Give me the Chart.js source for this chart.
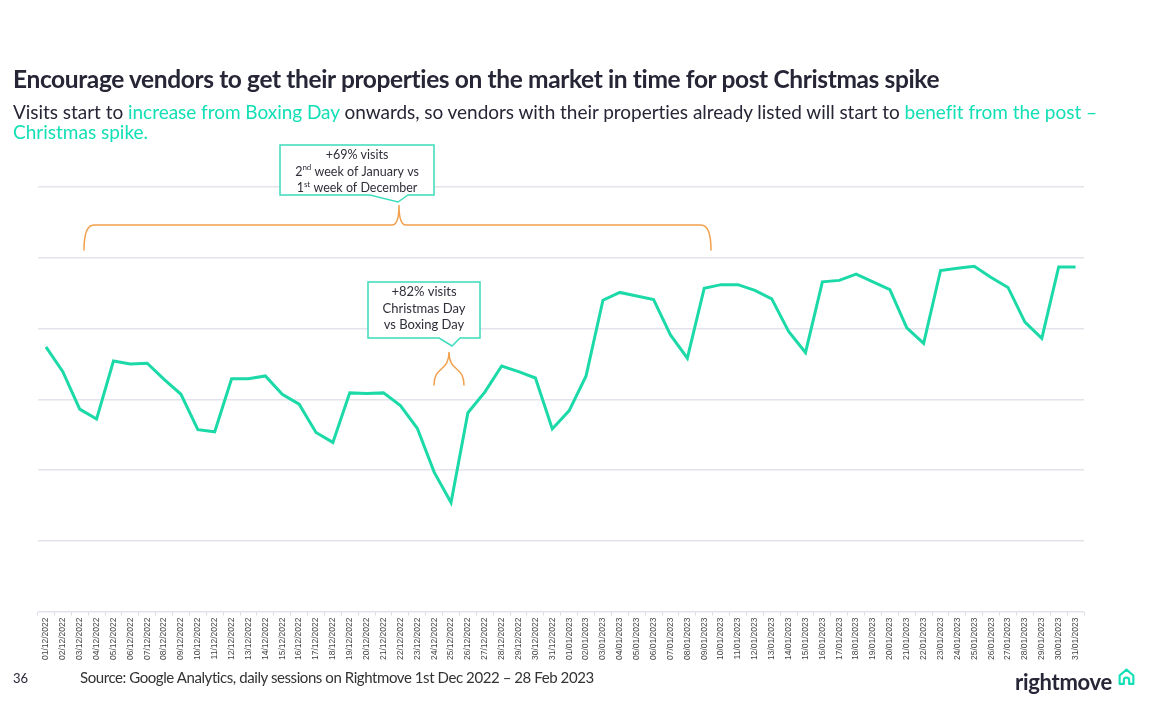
<!DOCTYPE html>
<html>
<head>
<meta charset="utf-8">
<script src="https://cdn.jsdelivr.net/npm/chart.js@4/dist/chart.umd.min.js"></script>
<style>
  html, body { margin: 0; padding: 0; background: #fff; }
  body { width: 1150px; height: 726px; position: relative; overflow: hidden; font-family: Lato, "Noto Sans", sans-serif; color: #262637; }
  #chart { position: absolute; left: 0; top: 0; }
  .txt { position: absolute; white-space: nowrap; }
  .teal { color: #12dfb5; }
  #title { left: 13px; top: 64px; font-size: 24.5px; font-weight: 700; }
  #sub1 { left: 13px; top: 100px; font-size: 19px; }
  #sub2 { left: 13px; top: 120px; font-size: 19px; }
  #page { left: 13px; top: 670px; font-size: 13px; }
  #source { left: 80px; top: 668px; font-size: 15px; color: #333; }
  #logo { left: 1015px; top: 668px; font-size: 22px; font-weight: 700; }
  #house { position: absolute; left: 1117px; top: 667px; }
</style>
</head>
<body>
<canvas id="chart" width="1150" height="726"></canvas>
<div class="txt" id="title" data-w="927">Encourage vendors to get their properties on the market in time for post Christmas spike</div>
<div class="txt" id="sub1" data-w="1084">Visits start to <span class="teal">increase from Boxing Day</span> onwards, so vendors with their properties already listed will start to <span class="teal">benefit from the post –</span></div>
<div class="txt teal" id="sub2">Christmas spike.</div>
<div class="txt" id="page">36</div>
<div class="txt" id="source" data-w="514">Source: Google Analytics, daily sessions on Rightmove 1st Dec 2022 – 28 Feb 2023</div>
<div class="txt" id="logo" data-w="97">rightmove</div>
<svg id="house" width="19" height="19" viewBox="0 0 18 18"><path d="M2.5 16 V8 L9 2.5 L15.5 8 V16 H11.5 V12.5 A2.5 2.5 0 0 0 6.5 12.5 V16 Z" fill="none" stroke="#12dfb5" stroke-width="2" stroke-linejoin="round"/></svg>
<script>
// daily labels, 1 Dec 2022 - 31 Jan 2023
var dayLabels = [
  "01/12/2022","02/12/2022","03/12/2022","04/12/2022","05/12/2022","06/12/2022","07/12/2022",
  "08/12/2022","09/12/2022","10/12/2022","11/12/2022","12/12/2022","13/12/2022","14/12/2022",
  "15/12/2022","16/12/2022","17/12/2022","18/12/2022","19/12/2022","20/12/2022","21/12/2022",
  "22/12/2022","23/12/2022","24/12/2022","25/12/2022","26/12/2022","27/12/2022","28/12/2022",
  "29/12/2022","30/12/2022","31/12/2022",
  "01/01/2023","02/01/2023","03/01/2023","04/01/2023","05/01/2023","06/01/2023","07/01/2023",
  "08/01/2023","09/01/2023","10/01/2023","11/01/2023","12/01/2023","13/01/2023","14/01/2023",
  "15/01/2023","16/01/2023","17/01/2023","18/01/2023","19/01/2023","20/01/2023","21/01/2023",
  "22/01/2023","23/01/2023","24/01/2023","25/01/2023","26/01/2023","27/01/2023","28/01/2023",
  "29/01/2023","30/01/2023","31/01/2023"
];

// daily sessions (relative, no axis shown in original)
var decSessions = [
  3.74, 3.39, 2.86, 2.72, 3.54, 3.50, 3.51, 3.28, 3.07, 2.57, 2.54,
  3.29, 3.29, 3.33, 3.07, 2.93, 2.53, 2.39, 3.09, 3.08, 3.09, 2.91,
  2.59, 1.97, 1.54, 2.81, 3.10, 3.47, 3.39, 3.30, 2.58
];
var janSessions = [
  2.84, 3.33, 4.40, 4.51, 4.46, 4.41, 3.91, 3.58, 4.57, 4.62, 4.62,
  4.54, 4.42, 3.96, 3.66, 4.66, 4.68, 4.77, 4.66, 4.55, 4.01, 3.79,
  4.82, 4.85, 4.88, 4.72, 4.58, 4.09, 3.86, 4.87, 4.87
];
var gridTicks = [0, 1, 2, 3, 4, 5, 6];

var TEAL = "#1cd9a8";
var ORANGE = "#f2a04e";
var FONT = "Lato, 'Noto Sans', sans-serif";

// stretch text to the width it has in the slide
document.querySelectorAll("[data-w]").forEach(function(el) {
  var target = +el.getAttribute("data-w");
  var n = el.textContent.length;
  var w = el.getBoundingClientRect().width;
  el.style.letterSpacing = ((target - w) / n) + "px";
});

// callout box with little pointer under it
function callout(ctx, box, lines) {
  ctx.save();
  ctx.beginPath();
  ctx.moveTo(box.l, box.t);
  ctx.lineTo(box.r, box.t);
  ctx.lineTo(box.r, box.b);
  ctx.lineTo(box.pr, box.b);
  ctx.lineTo(box.px, box.py);
  ctx.lineTo(box.pl, box.b);
  ctx.lineTo(box.l, box.b);
  ctx.closePath();
  ctx.fillStyle = "#fff";
  ctx.fill();
  ctx.strokeStyle = "#3ddcbc";
  ctx.lineWidth = 1.5;
  ctx.stroke();

  ctx.fillStyle = "#2f2f3a";
  ctx.textBaseline = "middle";
  var cx = (box.l + box.r) / 2;
  lines.forEach(function(line, i) {
    var y = box.t + box.lh * (i + 0.5) + 2;
    // line = [[text, sup], ...]
    var parts = line.map(function(p) {
      ctx.font = (p[1] ? "8px " : box.fs + "px ") + FONT;
      return { t: p[0], sup: p[1], w: ctx.measureText(p[0]).width };
    });
    var total = parts.reduce(function(a, p) { return a + p.w; }, 0);
    var x = cx - total / 2;
    ctx.textAlign = "left";
    parts.forEach(function(p) {
      ctx.font = (p.sup ? "8px " : box.fs + "px ") + FONT;
      ctx.fillText(p.t, x, p.sup ? y - 4 : y);
      x += p.w;
    });
  });
  ctx.restore();
}

var annotations = {
  id: "annotations",
  afterDraw: function(chart) {
    var ctx = chart.ctx;
    ctx.save();
    ctx.strokeStyle = ORANGE;
    ctx.lineWidth = 1.5;
    ctx.lineCap = "round";

    // long brace: first week of Dec to second week of Jan
    var l = 84, r = 711, c = 399, y = 225;
    ctx.beginPath();
    ctx.moveTo(l, 250);
    ctx.quadraticCurveTo(l, y, l + 10, y);
    ctx.lineTo(c - 7, y);
    ctx.quadraticCurveTo(c, y, c, 205);
    ctx.quadraticCurveTo(c, y, c + 7, y);
    ctx.lineTo(r - 10, y);
    ctx.quadraticCurveTo(r, y, r, 250);
    ctx.stroke();

    // small brace over Christmas / Boxing Day
    ctx.beginPath();
    ctx.moveTo(434, 385);
    ctx.bezierCurveTo(434, 366, 449, 372, 449, 352);
    ctx.bezierCurveTo(449, 372, 464, 366, 464, 385);
    ctx.stroke();
    ctx.restore();

    callout(ctx, { l: 280, r: 434, t: 145, b: 195, pl: 370, px: 398, py: 202, pr: 408, lh: 16.5, fs: 12.5 },
      [[["+69% visits"]], [["2"], ["nd", true], [" week of January vs"]], [["1"], ["st", true], [" week of December"]]]);
    callout(ctx, { l: 368, r: 480, t: 282, b: 338, pl: 439, px: 452, py: 346, pr: 460, lh: 16.5, fs: 13 },
      [[["+82% visits"]], [["Christmas Day"]], [["vs Boxing Day"]]]);
  }
};

new Chart(document.getElementById("chart"), {
  type: "line",
  data: {
    labels: dayLabels,
    datasets: [{
      data: decSessions.concat(janSessions),
      borderColor: TEAL,
      borderWidth: 3,
      pointRadius: 0,
      tension: 0,
      fill: false
    }]
  },
  options: {
    responsive: false,
    animation: false,
    layout: { padding: { left: 37.5, top: 187, right: 66, bottom: 64.5 } },
    plugins: { legend: { display: false }, tooltip: { enabled: false } },
    scales: {
      x: {
        offset: true,
        grid: { offset: true, drawOnChartArea: false, drawTicks: true, tickLength: 4, color: "#dcdce6" },
        border: { display: false },
        ticks: {
          autoSkip: false, minRotation: 90, maxRotation: 90, padding: 2,
          color: "#444", font: { size: 8.5, family: "'Liberation Sans', Arial, sans-serif" }
        },
        afterFit: function(s) { s.height = 50; }
      },
      y: {
        min: gridTicks[0],
        max: gridTicks[gridTicks.length - 1],
        afterBuildTicks: function(s) { s.ticks = gridTicks.map(function(v) { return { value: v }; }); },
        ticks: { display: false },
        grid: { color: "#e3e3ec", lineWidth: 1.5, drawTicks: false },
        border: { display: false },
        afterFit: function(s) { s.width = 0; }
      }
    }
  },
  plugins: [annotations]
});
</script>
</body>
</html>
